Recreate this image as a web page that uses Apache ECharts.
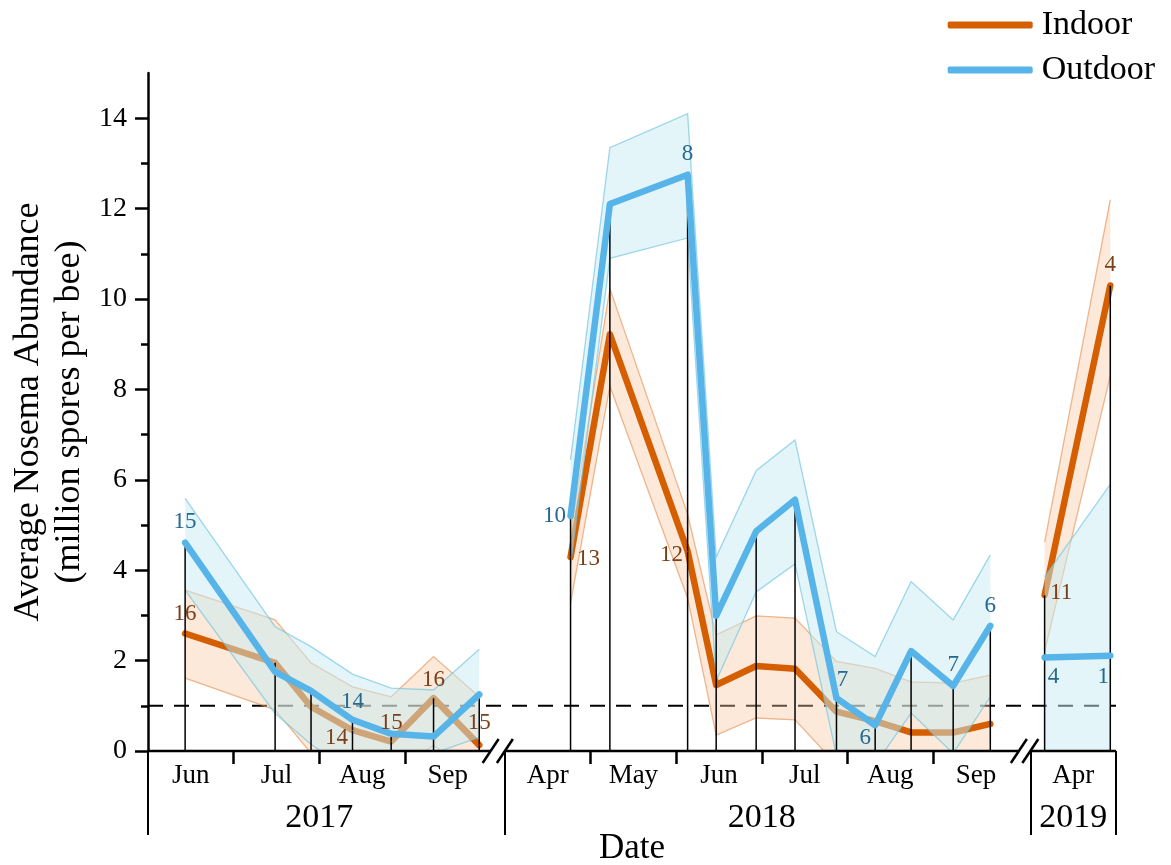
<!DOCTYPE html>
<html>
<head>
<meta charset="utf-8">
<script src="https://cdn.jsdelivr.net/npm/echarts@6/dist/echarts.min.js"></script>
<style>
  html, body { margin: 0; padding: 0; background: #fff; }
  #chart { width: 1171px; height: 865px; }
</style>
</head>
<body>
<div id="chart"></div>
<script>
// ---------------- data ----------------
const FONT = '"Liberation Serif", "Times New Roman", serif';
const MONTH_NAMES = ['Jan', 'Feb', 'Mar', 'Apr', 'May', 'Jun', 'Jul', 'Aug', 'Sep', 'Oct', 'Nov', 'Dec'];
const YEAR_LABELS = ['2017', '2018', '2019'];
const Y_TICKS = [0, 2, 4, 6, 8, 10, 12, 14];
const Y_MINOR = [1, 3, 5, 7, 9, 11, 13];
const THRESHOLD = 1;

// sampling dates
const dates2017 = ['2017-06-14', '2017-07-16', '2017-07-29', '2017-08-13', '2017-08-27', '2017-09-11', '2017-09-27'];
const dates2018 = ['2018-04-24', '2018-05-08', '2018-06-05', '2018-06-15', '2018-06-29', '2018-07-13',
                   '2018-07-28', '2018-08-11', '2018-08-24', '2018-09-08', '2018-09-21'];
const dates2019 = ['2019-04-06', '2019-04-29'];

// Indoor: mean and confidence band
const indoorMean2017 = [2.60, 1.95, 0.98, 0.46, 0.21, 1.17, 0.13];
const indoorLow2017  = [1.61, 0.91, -0.05, -0.40, -0.50, 0.12, -0.60];
const indoorHigh2017 = [3.56, 2.90, 1.95, 1.42, 1.20, 2.09, 1.20];
const indoorMean2018 = [4.29, 9.22, 4.42, 1.46, 1.88, 1.82, 0.87, 0.66, 0.41, 0.41, 0.60];
const indoorLow2018  = [3.27, 8.07, 3.38, 0.35, 0.73, 0.69, -0.30, -0.50, -0.20, -0.30, -0.10];
const indoorHigh2018 = [4.82, 10.23, 5.24, 2.57, 2.99, 2.94, 1.98, 1.83, 1.53, 1.50, 1.68];
const indoorMean2019 = [3.45, 10.30];
const indoorLow2019  = [2.20, 8.30];
const indoorHigh2019 = [4.62, 12.20];

// Outdoor: mean and confidence band
const outdoorMean2017 = [4.61, 1.75, 1.33, 0.69, 0.38, 0.32, 1.25];
const outdoorLow2017  = [3.56, 0.83, 0.15, -0.50, -0.80, -0.05, 0.30];
const outdoorHigh2017 = [5.59, 2.75, 2.31, 1.70, 1.39, 1.35, 2.25];
const outdoorMean2018 = [5.20, 12.10, 12.75, 2.99, 4.86, 5.56, 1.17, 0.57, 2.21, 1.44, 2.77];
const outdoorLow2018  = [4.10, 10.90, 11.35, 1.55, 3.52, 4.14, -0.10, -0.30, 0.84, -0.05, 1.20];
const outdoorHigh2018 = [6.44, 13.35, 14.10, 4.29, 6.20, 6.88, 2.64, 2.09, 3.75, 2.90, 4.34];
const outdoorMean2019 = [2.07, 2.11];
const outdoorLow2019  = [-1.50, -1.50];
const outdoorHigh2019 = [3.85, 5.90];

// number of colonies sampled (shown only where it changes)
const indoorN2017 = [16, null, null, 14, 15, 16, 15];
const indoorN2018 = [13, null, 12, null, null, null, null, null, null, null, null];
const indoorN2019 = [11, 4];
const outdoorN2017 = [15, null, null, 14, null, null, null];
const outdoorN2018 = [10, null, 8, null, null, null, 7, 6, null, 7, 6];
const outdoorN2019 = [4, 1];

// ---------------- styling ----------------
const ORANGE = '#D55E00';
const BLUE = '#56B4E9';
const IN_LABEL = '#7A3F18';
const OUT_LABEL = '#256890';
const IN_FILL = 'rgba(248,200,160,0.4)';
const IN_EDGE = 'rgba(225,130,60,0.55)';
const OUT_FILL = 'rgba(200,235,242,0.5)';
const OUT_EDGE = 'rgba(110,195,225,0.65)';

// where each count label sits relative to its point
const LABEL_PLACE = {
  indoor: [
    { 0: ['top', 8], 3: ['left', 4, [0, 8]], 4: ['top', 7], 5: ['top', 6], 6: ['top', 10] },
    { 0: ['right', 6, [0, 2]], 2: ['left', 4, [0, 4]] },
    { 0: ['right', 5, [0, -2]], 1: ['top', 8] }
  ],
  outdoor: [
    { 0: ['top', 9], 3: ['top', 6] },
    { 0: ['left', 4], 2: ['top', 9], 6: ['top', 6, [6, 0]], 7: ['bottom', 1, [-10, 0]], 9: ['top', 9], 10: ['top', 8] },
    { 0: ['bottom', 8, [9, 0]], 1: ['bottom', 9, [-7, 0]] }
  ]
};

// ---------------- broken date axis ----------------
// Each field season is laid out month by month; the winters between seasons
// are squeezed into a narrow gap.
const SEASONS = [
  { year: 2017, firstMonth: 6, months: 4 },
  { year: 2018, firstMonth: 4, months: 6 },
  { year: 2019, firstMonth: 4, months: 1 }
];
const WINTER_GAP = [0.166, 0.134];
let acc = 0;
SEASONS.forEach((s, i) => {
  s.offset = acc;
  acc += s.months + (i < WINTER_GAP.length ? WINTER_GAP[i] : 0);
});
const XMAX = SEASONS[SEASONS.length - 1].offset + SEASONS[SEASONS.length - 1].months;

function toX(str) {
  const [y, m, d] = str.split('-').map(Number);
  const s = SEASONS.find(q => q.year === y);
  const dim = new Date(y, m, 0).getDate();
  return s.offset + (m - s.firstMonth) + (d - 1) / dim;
}

const monthTicks = [];
const monthCenters = [];
const monthLabels = [];
SEASONS.forEach(s => {
  for (let k = 0; k < s.months; k++) {
    if (k > 0) monthTicks.push(s.offset + k);
    monthCenters.push(s.offset + k + 0.5);
    monthLabels.push(MONTH_NAMES[s.firstMonth - 1 + k]);
  }
});
const seasonEdges = SEASONS.map(s => s.offset).concat([XMAX]);
const seasonCenters = SEASONS.map(s => s.offset + s.months / 2);

function labelAt(values, labels) {
  return function (v) {
    let best = 0;
    values.forEach((c, i) => { if (Math.abs(c - v) < Math.abs(values[best] - v)) best = i; });
    return labels[best];
  };
}

const seasonData = [
  { dates: dates2017, inMean: indoorMean2017, inLow: indoorLow2017, inHigh: indoorHigh2017, inN: indoorN2017,
    outMean: outdoorMean2017, outLow: outdoorLow2017, outHigh: outdoorHigh2017, outN: outdoorN2017 },
  { dates: dates2018, inMean: indoorMean2018, inLow: indoorLow2018, inHigh: indoorHigh2018, inN: indoorN2018,
    outMean: outdoorMean2018, outLow: outdoorLow2018, outHigh: outdoorHigh2018, outN: outdoorN2018 },
  { dates: dates2019, inMean: indoorMean2019, inLow: indoorLow2019, inHigh: indoorHigh2019, inN: indoorN2019,
    outMean: outdoorMean2019, outLow: outdoorLow2019, outHigh: outdoorHigh2019, outN: outdoorN2019 }
];

// ---------------- series builders ----------------
function bandSeries(lowKey, highKey, fill, edge, z) {
  return {
    type: 'custom',
    silent: true,
    clip: true,
    z: z,
    data: seasonData.map((s, i) => [i, 0]),
    renderItem: function (params, api) {
      const s = seasonData[params.dataIndex];
      const xs = s.dates.map(toX);
      const top = xs.map((x, i) => api.coord([x, s[highKey][i]]));
      const bot = xs.map((x, i) => api.coord([x, s[lowKey][i]]));
      return {
        type: 'group',
        children: [
          { type: 'polygon', shape: { points: top.concat(bot.slice().reverse()) }, style: { fill: fill, stroke: null } },
          { type: 'polyline', shape: { points: top }, style: { stroke: edge, lineWidth: 1.3, fill: null } },
          { type: 'polyline', shape: { points: bot }, style: { stroke: edge, lineWidth: 1.3, fill: null } }
        ]
      };
    }
  };
}

function meanSeries(name, color, meanKey, z) {
  return seasonData.map(s => ({
    type: 'line',
    name: name,
    z: z,
    silent: true,
    symbol: 'none',
    lineStyle: { color: color, width: 6.5, cap: 'round', join: 'round' },
    itemStyle: { color: color },
    emphasis: { disabled: true },
    data: s.dates.map((d, i) => [toX(d), s[meanKey][i]])
  }));
}

// sample counts, drawn above every band and line
function countSeries(lineColor, labelColor, meanKey, nKey, placeKey) {
  const data = [];
  seasonData.forEach((s, si) => {
    s.dates.forEach((d, i) => {
      const n = s[nKey][i];
      const place = LABEL_PLACE[placeKey][si][i];
      if (n == null || !place) return;
      data.push({
        value: [toX(d), s[meanKey][i]],
        label: {
          show: true,
          formatter: String(n),
          position: place[0],
          distance: place[1],
          offset: place[2] || [0, 0]
        }
      });
    });
  });
  return {
    type: 'scatter',
    silent: true,
    z: 8,
    symbolSize: 1,
    itemStyle: { color: lineColor, opacity: 1 },
    label: { color: labelColor, opacity: 1, fontFamily: FONT, fontSize: 23 },
    emphasis: { disabled: true },
    data: data
  };
}

const dropData = [];
seasonData.forEach(s => {
  s.dates.forEach((d, i) => dropData.push([toX(d), Math.max(s.inMean[i], s.outMean[i])]));
});

const option = {
  animation: false,
  backgroundColor: '#fff',
  grid: { left: 148, right: 55, top: 73, bottom: 114, containLabel: false, outerBoundsMode: 'none' },
  legend: {
    orient: 'vertical',
    right: 11,
    top: 3,
    itemWidth: 85,
    itemHeight: 7,
    itemGap: 11,
    icon: 'roundRect',
    itemStyle: { borderWidth: 0 },
    textStyle: { fontFamily: FONT, fontSize: 34, color: '#000', padding: [0, 0, 0, 4] },
    data: [
      { name: 'Indoor', itemStyle: { color: ORANGE } },
      { name: 'Outdoor', itemStyle: { color: BLUE } }
    ]
  },
  xAxis: [
    {
      type: 'value', min: 0, max: XMAX, position: 'bottom', offset: 0,
      axisLine: { show: false },
      splitLine: { show: false },
      axisTick: { show: true, customValues: monthTicks, length: 13, lineStyle: { color: '#000', width: 2.5 } },
      axisLabel: {
        customValues: monthCenters, formatter: labelAt(monthCenters, monthLabels),
        margin: 11, fontFamily: FONT, fontSize: 27, color: '#000'
      }
    },
    {
      type: 'value', min: 0, max: XMAX, position: 'bottom', offset: 0,
      axisLine: { show: false },
      splitLine: { show: false },
      axisTick: { show: true, customValues: seasonEdges, length: 84, lineStyle: { color: '#000', width: 2 } },
      axisLabel: {
        customValues: seasonCenters, formatter: labelAt(seasonCenters, YEAR_LABELS),
        margin: 50, fontFamily: FONT, fontSize: 34, color: '#000'
      },
      name: 'Date', nameLocation: 'middle', nameGap: 80, nameMoveOverlap: false,
      nameTextStyle: { fontFamily: FONT, fontSize: 35, color: '#000' }
    }
  ],
  yAxis: [
    {
      type: 'value', min: 0, max: 15, position: 'left', offset: 0,
      axisLine: { show: true, lineStyle: { color: '#000', width: 2.5 } },
      splitLine: { show: false },
      axisTick: { show: true, customValues: Y_TICKS, length: 13, lineStyle: { color: '#000', width: 2.5 } },
      axisLabel: { customValues: Y_TICKS, margin: 21, fontFamily: FONT, fontSize: 28, color: '#000' },
      name: 'Average Nosema Abundance\n(million spores per bee)',
      nameLocation: 'middle', nameGap: 58, nameMoveOverlap: false,
      nameTextStyle: { fontFamily: FONT, fontSize: 36, lineHeight: 41, color: '#000' }
    },
    {
      type: 'value', min: 0, max: 15, position: 'left', offset: 0,
      axisLine: { show: false },
      splitLine: { show: false },
      axisTick: { show: true, customValues: Y_MINOR, length: 7, lineStyle: { color: '#000', width: 2.5 } },
      axisLabel: { show: false }
    }
  ],
  series: [
    // detection threshold
    {
      type: 'line', silent: true, z: 1, symbol: 'none',
      lineStyle: { color: '#000', width: 2, type: [15, 11] },
      data: [[0, THRESHOLD], [XMAX, THRESHOLD]]
    },
    bandSeries('inLow', 'inHigh', IN_FILL, IN_EDGE, 2),
    ...meanSeries('Indoor', ORANGE, 'inMean', 3),
    bandSeries('outLow', 'outHigh', OUT_FILL, OUT_EDGE, 4),
    // sampling-date drop lines
    {
      type: 'custom', silent: true, z: 5, clip: true,
      data: dropData,
      renderItem: function (params, api) {
        const a = api.coord([api.value(0), 0]);
        const b = api.coord([api.value(0), api.value(1)]);
        return { type: 'line', shape: { x1: a[0], y1: a[1], x2: b[0], y2: b[1] }, style: { stroke: '#000', lineWidth: 1.5 } };
      }
    },
    ...meanSeries('Outdoor', BLUE, 'outMean', 6),
    countSeries(ORANGE, IN_LABEL, 'inMean', 'inN', 'indoor'),
    countSeries(BLUE, OUT_LABEL, 'outMean', 'outN', 'outdoor'),
    // broken x axis line with double-slash break marks
    {
      type: 'custom', silent: true, z: 10, clip: false,
      data: [[0, 0]],
      renderItem: function (params, api) {
        const children = [];
        const slash = (p) => ({
          type: 'line',
          shape: { x1: p[0] - 8, y1: p[1] + 12, x2: p[0] + 8, y2: p[1] - 12 },
          style: { stroke: '#000', lineWidth: 2.5 }
        });
        SEASONS.forEach((s, i) => {
          const a = api.coord([s.offset, 0]);
          const b = api.coord([s.offset + s.months, 0]);
          children.push({ type: 'line', shape: { x1: a[0], y1: a[1], x2: b[0], y2: b[1] }, style: { stroke: '#000', lineWidth: 2.5 } });
          if (i < SEASONS.length - 1) children.push(slash(b));
          if (i > 0) children.push(slash(a));
        });
        return { type: 'group', children: children };
      }
    }
  ]
};

const chart = echarts.init(document.getElementById('chart'), null, { renderer: 'canvas' });
chart.setOption(option);
</script>
</body>
</html>
